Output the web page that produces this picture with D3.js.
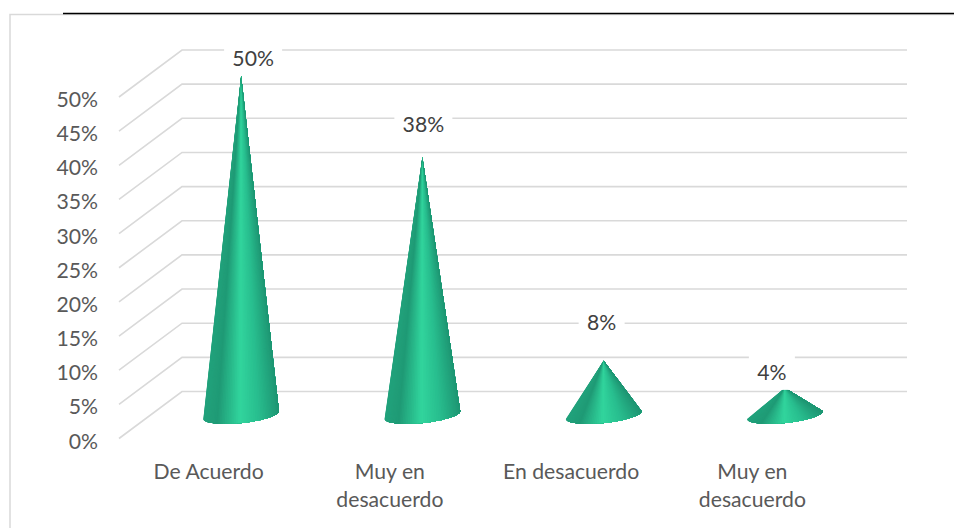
<!DOCTYPE html>
<html lang="es">
<head>
<meta charset="UTF-8">
<title>Cone chart</title>
<script src="https://cdn.jsdelivr.net/npm/d3@7"></script>
<style>
    html, body { margin: 0; padding: 0; background: #fff; }
    svg { display: block; }
    text { font-family: Lato, "Open Sans", sans-serif; }
</style>
</head>
<body>
<div id="chart"></div>
<script>
const categories = ["De Acuerdo", "Muy en desacuerdo", "En desacuerdo", "Muy en desacuerdo"];
const values = [50, 38, 8, 4];
const tickValues = [0, 5, 10, 15, 20, 25, 30, 35, 40, 45, 50];

// label placement relative to each cone tip
const labelNudge = [[12, -18], [1, -33], [-2, -38], [-13, -15]];
const labelBoxW = [58, 58, 46, 46];
const categoryLines = [["De Acuerdo"], ["Muy en", "desacuerdo"], ["En desacuerdo"], ["Muy en", "desacuerdo"]];

const width = 954, height = 528;
const depthX = 63, depthY = -47;   // front plane to back wall
const frontLeft = 119, frontRight = 844;
const fontSize = 21.2;

const svg = d3.select("#chart").append("svg")
    .attr("width", width)
    .attr("height", height);

const y = d3.scaleLinear().domain([0, 50]).range([438.5, 97]);
const coneY = d3.scaleLinear().domain([0, 50]).range([415, 76]);
const x = d3.scaleBand().domain(d3.range(categories.length)).range([frontLeft, frontRight]);

// frame
svg.append("path")
    .attr("d", `M10,${height} V14.5 H${width}`)
    .attr("fill", "none")
    .attr("stroke", "#d9d9d9")
    .attr("stroke-width", 1.5);
svg.append("line")
    .attr("x1", 63).attr("x2", width)
    .attr("y1", 13.5).attr("y2", 13.5)
    .attr("stroke", "#000")
    .attr("stroke-width", 1.3);

// grid: diagonal on the side wall, flat on the back wall
svg.append("g").selectAll("path")
    .data(tickValues)
    .join("path")
    .attr("d", d => `M${frontLeft},${y(d)} L${frontLeft + depthX},${y(d) + depthY} H${frontRight + depthX}`)
    .attr("fill", "none")
    .attr("stroke", "#d9d9d9")
    .attr("stroke-width", 1.6);

// value axis
const yAxis = svg.append("g")
    .attr("transform", "translate(98,0)")
    .call(d3.axisLeft(y).tickValues(tickValues).tickSize(0).tickPadding(0).tickFormat(d => d + "%"));
yAxis.select(".domain").remove();
yAxis.selectAll("text")
    .attr("font-size", fontSize)
    .attr("fill", "#595959")
    .attr("dy", "9.5px")
    .style("font-family", "Lato, 'Open Sans', sans-serif");

// cones, drawn as overlapping fan slices so the shading narrows towards the tip
const shade = d3.scaleLinear()
    .domain([-1, -0.65, -0.05, 0.45, 1])
    .range(["#21a27c", "#1f9a75", "#31d59d", "#28bd8e", "#1e9673"]);

const baseRx = 38, baseRy = 8, tilt = -6 * Math.PI / 180;
const steps = d3.range(0, 60);

function basePoint(cx, cy, t) {
    const ex = baseRx * Math.cos(t), ey = baseRy * Math.sin(t);
    return [cx + ex * Math.cos(tilt) - ey * Math.sin(tilt),
            cy + ex * Math.sin(tilt) + ey * Math.cos(tilt)];
}

const cones = svg.append("g").selectAll("g")
    .data(values)
    .join("g")
    .attr("data-value", d => d);

cones.each(function (v, i) {
    const cx = x(i) + x.bandwidth() / 2 + depthX / 2;
    const cy = coneY(0);
    const tipY = coneY(v);
    d3.select(this).selectAll("path")
        .data(steps)
        .join("path")
        .attr("d", s => {
            // each slice runs on under the next ones, which hides the seams
            const pts = d3.range(s, steps.length + 1)
                .map(k => basePoint(cx, cy, Math.PI * (1 - k / steps.length)));
            return `M${cx},${tipY} L${pts.join(" L")} Z`;
        })
        .attr("fill", s => shade(-Math.cos(Math.PI * (s + 0.5) / steps.length)));
});

// data labels sit on white boxes that knock out the grid
const labels = svg.append("g").selectAll("g")
    .data(values)
    .join("g")
    .attr("transform", (d, i) => {
        const lx = x(i) + x.bandwidth() / 2 + depthX / 2 + labelNudge[i][0];
        const ly = coneY(d) + labelNudge[i][1];
        return `translate(${lx},${ly})`;
    });
labels.append("rect")
    .attr("x", (d, i) => -labelBoxW[i] / 2)
    .attr("y", -17)
    .attr("width", (d, i) => labelBoxW[i])
    .attr("height", 34)
    .attr("fill", "#fff");
labels.append("text")
    .attr("text-anchor", "middle")
    .attr("dy", 7.5)
    .attr("font-size", fontSize)
    .attr("fill", "#404040")
    .text(d => d + "%");

// category labels
svg.append("g").selectAll("text")
    .data(categories)
    .join("text")
    .attr("x", (d, i) => x(i) + x.bandwidth() / 2)
    .attr("y", 479)
    .attr("text-anchor", "middle")
    .attr("font-size", fontSize)
    .attr("fill", "#595959")
    .each(function (d, i) {
        d3.select(this).selectAll("tspan")
            .data(categoryLines[i])
            .join("tspan")
            .attr("x", x(i) + x.bandwidth() / 2 - 1)
            .attr("dy", (l, k) => k ? 27.6 : 0)
            .text(l => l);
    });
</script>
</body>
</html>
